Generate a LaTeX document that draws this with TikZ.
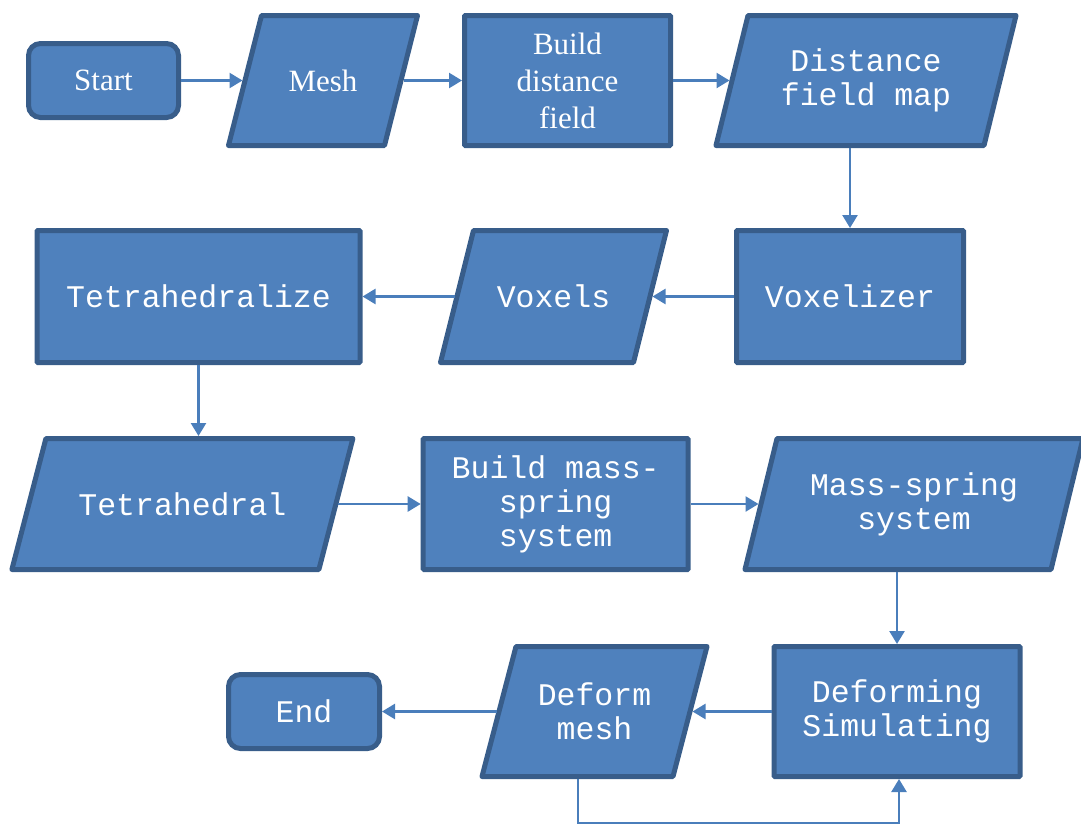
\documentclass[tikz,border=0pt]{standalone}
\usepackage{fontspec}
\setmainfont{Liberation Serif}
\newfontfamily\cour{Liberation Mono}
\usetikzlibrary{arrows.meta,backgrounds}
\definecolor{boxfill}{HTML}{4F81BD}
\definecolor{boxline}{HTML}{385D8A}
\definecolor{arrowc}{HTML}{4A7EBB}
\tikzset{
  base/.style={draw=boxline, fill=boxfill, line width=5pt, text=white, align=center, inner sep=2pt, outer sep=0pt},
  serif/.style={font=\fontsize{31}{37}\selectfont},
  mono/.style={font=\cour\fontsize{31.5}{34}\selectfont},
  procbox/.style={base, rectangle, rounded corners=1pt},
  termbox/.style={base, rectangle, rounded corners=12pt},
  databox/.style={rectangle, text=white, align=center, inner sep=2pt, outer sep=0pt},
  parashape/.style={draw=boxline, fill=boxfill, line width=5pt, line join=round},
  arr/.style={draw=arrowc, line width=2.5pt, -{Triangle[length=13pt,width=15pt]}, shorten >=2.5pt, shorten <=2.5pt},
}
\newcommand\paradraw[2]{\path[parashape] ([xshift=-#2]#1.south west) -- ([xshift=-#2]#1.south east) -- ([xshift=#2]#1.north east) -- ([xshift=#2]#1.north west) -- cycle;}
\begin{document}
\begin{tikzpicture}[x=1pt,y=-1pt]
\useasboundingbox (0,0) rectangle (1081,825);
% row 1
\node[termbox, serif, minimum width=150pt, minimum height=74pt] (start) at (103.5,80.5) {Start};
\node[databox, serif, minimum width=156pt, minimum height=130pt] (mesh) at (323,80.5) {Mesh};
\node[procbox, serif, minimum width=206pt, minimum height=130pt] (build) at (567.5,80.5) {Build\\distance\\field};
\node[databox, mono, minimum width=268pt, minimum height=130pt] (dfm) at (866,80.5) {Distance\\field map};
% row 2
\node[procbox, mono, minimum width=227pt, minimum height=132pt] (vox) at (850,296.5) {Voxelizer};
\node[databox, mono, minimum width=193pt, minimum height=132pt] (voxels) at (553.5,296.5) {Voxels};
\node[procbox, mono, minimum width=323pt, minimum height=132pt] (tetz) at (198.5,296.5) {Tetrahedralize};
% row 3
\node[databox, mono, minimum width=307pt, minimum height=131pt] (tet) at (182.4,504) {Tetrahedral};
\node[procbox, mono, minimum width=265pt, minimum height=131pt] (bms) at (555.7,504) {Build mass-\\spring\\system};
\node[databox, mono, minimum width=306pt, minimum height=131pt] (msys) at (914,504) {Mass-spring\\system};
% row 4
\node[procbox, mono, minimum width=246pt, minimum height=130pt] (def) at (897,711.5) {Deforming\\Simulating};
\node[databox, mono, minimum width=191pt, minimum height=130pt] (dmesh) at (594.5,711.5) {Deform\\mesh};
\node[termbox, mono, minimum width=151pt, minimum height=74pt] (end) at (304,711.5) {End};
\coordinate (loopb) at (0,823);
% parallelogram outlines behind the data nodes
\begin{scope}[on background layer]
  \paradraw{mesh}{16.5pt}
  \paradraw{dfm}{16pt}
  \paradraw{voxels}{16.5pt}
  \paradraw{tet}{17pt}
  \paradraw{msys}{16pt}
  \paradraw{dmesh}{17pt}
\end{scope}
% connectors
\draw[arr] (start) -- (mesh);
\draw[arr] (mesh) -- (build);
\draw[arr] (build) -- (dfm);
\draw[arr] (vox.north |- dfm.south) -- (vox.north);
\draw[arr] (vox) -- (voxels);
\draw[arr] (voxels) -- (tetz);
\draw[arr] (tetz.south) -- (tetz.south |- tet.north);
\draw[arr] (tet) -- (bms);
\draw[arr] (bms) -- (msys);
\draw[arr] (def.north |- msys.south) -- (def.north);
\draw[arr] (def) -- (dmesh);
\draw[arr] (dmesh) -- (end);
\draw[arr] ([xshift=-16.5pt]dmesh.south) -- ([xshift=-16.5pt]dmesh.south |- loopb) -- ([xshift=2pt]def.south |- loopb) -- ([xshift=2pt]def.south);
\end{tikzpicture}
\end{document}
